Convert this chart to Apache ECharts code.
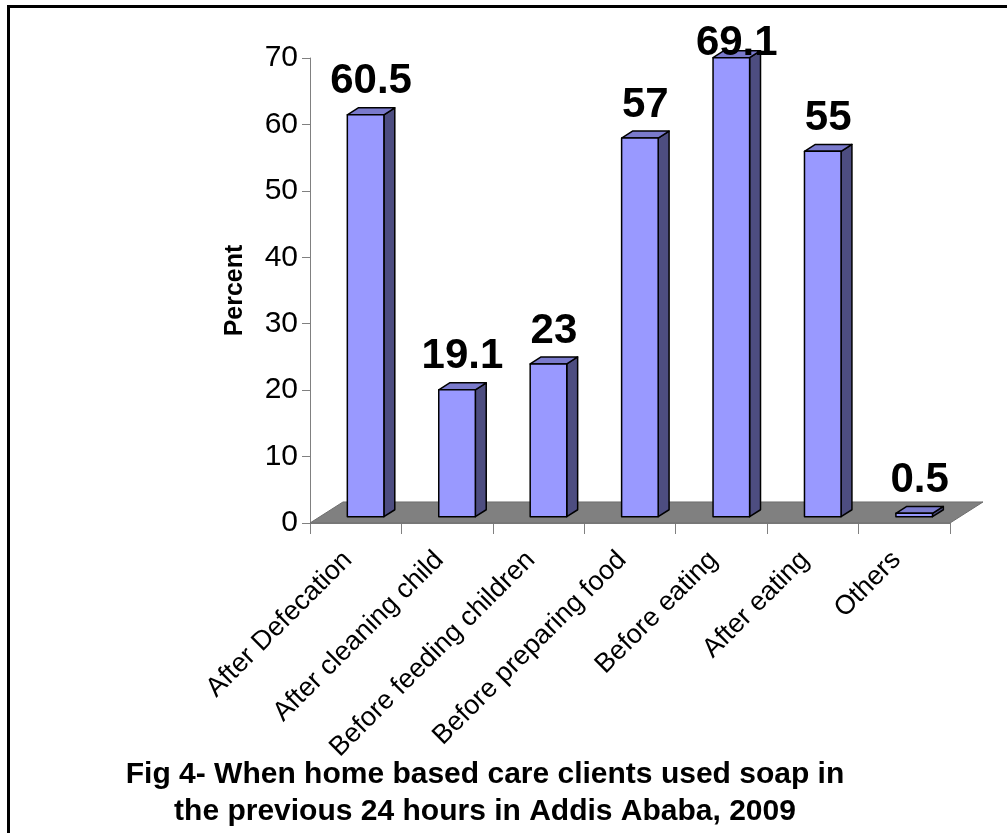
<!DOCTYPE html>
<html>
<head>
<meta charset="utf-8">
<title>Soap use in the previous 24 hours</title>
<script src="https://cdn.jsdelivr.net/npm/echarts@6/dist/echarts.min.js"></script>
<style>
  html, body { margin: 0; padding: 0; background: #fff; }
  #chart { width: 1007px; height: 833px; }
</style>
</head>
<body>
<div id="chart"></div>
<script>
// Occasions on which soap was used (percent of clients)
const categories = [
  'After Defecation',
  'After cleaning child',
  'Before feeding children',
  'Before preparing food',
  'Before eating',
  'After eating',
  'Others'
];
const percentValues = [60.5, 19.1, 23, 57, 69.1, 55, 0.5];

// Value axis range and step
const yMin = 0;
const yMax = 70;
const yStep = 10;

const FONT = "'Liberation Sans', Arial, Helvetica, sans-serif";

// Depth of the pseudo-3D floor, as a fraction of one category band
const DEPTH_X = 0.361;
const DEPTH_Y = -0.23;
// Front and back planes of the columns along that depth
const COL_FRONT = 0.3;
const COL_BACK = 0.63;
const COL_WIDTH = 0.4;

function renderFloor(params, api) {
  const bw = api.size([1, 0])[0];
  const first = api.coord([0, 0]);
  const last = api.coord([categories.length - 1, 0]);
  const left = first[0] - bw / 2;
  const right = last[0] + bw / 2;
  const y0 = first[1];
  const dx = bw * DEPTH_X, dy = bw * DEPTH_Y;
  return {
    type: 'polygon',
    shape: { points: [[left, y0], [right, y0], [right + dx, y0 + dy], [left + dx, y0 + dy]] },
    style: { fill: '#808080', stroke: '#6e6e6e', lineWidth: 1 }
  };
}

function renderColumn(params, api) {
  const i = api.value(0);
  const v = api.value(1);
  const base = api.coord([i, 0]);
  const top = api.coord([i, v]);
  const bw = api.size([1, 0])[0];
  const dx = bw * DEPTH_X, dy = bw * DEPTH_Y;
  const w = bw * COL_WIDTH;
  const xl = base[0] - w / 2 + dx * COL_FRONT;
  const xr = xl + w;
  const yb = base[1] + dy * COL_FRONT;
  const yt = top[1] + dy * COL_FRONT;
  const ddx = dx * (COL_BACK - COL_FRONT);
  const ddy = dy * (COL_BACK - COL_FRONT);
  const edge = { stroke: '#000', lineWidth: 1.5, lineJoin: 'round' };

  // value label sits above the back edge of the top face, kept inside the chart
  let labelY = yt + ddy - 11 - 15;
  if (labelY < 43) labelY = 43;

  return {
    type: 'group',
    children: [
      {
        type: 'polygon',
        shape: { points: [[xr, yt], [xr + ddx, yt + ddy], [xr + ddx, yb + ddy], [xr, yb]] },
        style: Object.assign({ fill: '#4d4d80' }, edge)
      },
      {
        type: 'polygon',
        shape: { points: [[xl, yt], [xl + ddx, yt + ddy], [xr + ddx, yt + ddy], [xr, yt]] },
        style: Object.assign({ fill: '#7a7acc' }, edge)
      },
      {
        type: 'rect',
        shape: { x: xl, y: yt, width: w, height: yb - yt },
        style: Object.assign({ fill: '#9999ff' }, edge)
      },
      {
        type: 'text',
        x: (xl + xr + ddx) / 2,
        y: labelY,
        style: {
          text: String(percentValues[i]),
          fill: '#000',
          font: 'bold 42px ' + FONT,
          align: 'center',
          verticalAlign: 'middle'
        }
      }
    ]
  };
}

const chart = echarts.init(document.getElementById('chart'), null, { renderer: 'canvas' });

chart.setOption({
  backgroundColor: '#fff',
  animation: false,
  title: {
    text: 'Fig 4- When home based care clients used soap in\nthe previous 24 hours in Addis Ababa, 2009',
    left: 480,
    top: 751,
    textAlign: 'center',
    textStyle: {
      fontFamily: FONT,
      fontSize: 30,
      fontWeight: 'bold',
      color: '#000',
      lineHeight: 37
    }
  },
  graphic: [
    {
      type: 'rect',
      shape: { x: 8.5, y: 6.5, width: 1200, height: 1000 },
      style: { fill: 'none', stroke: '#000', lineWidth: 3 },
      silent: true
    }
  ],
  grid: {
    left: 310,
    right: 57,
    top: 58,
    bottom: 310,
    containLabel: false
  },
  xAxis: {
    type: 'category',
    data: categories,
    boundaryGap: true,
    axisLine: { show: true, lineStyle: { color: '#808080', width: 1 } },
    axisTick: { show: true, length: 11, alignWithLabel: false, lineStyle: { color: '#808080' } },
    axisLabel: {
      rotate: 45,
      interval: 0,
      margin: 25,
      padding: [0, 11, 0, 0],
      fontFamily: FONT,
      fontSize: 27,
      color: '#000'
    },
    splitLine: { show: false }
  },
  yAxis: {
    type: 'value',
    min: yMin,
    max: yMax,
    interval: yStep,
    name: 'Percent',
    nameLocation: 'middle',
    nameRotate: 90,
    nameGap: 62,
    nameTextStyle: {
      fontFamily: FONT,
      fontSize: 25,
      fontWeight: 'bold',
      color: '#000'
    },
    axisLine: { show: true, lineStyle: { color: '#808080', width: 1 } },
    axisTick: { show: true, length: 8, lineStyle: { color: '#808080' } },
    axisLabel: {
      margin: 12,
      fontFamily: FONT,
      fontSize: 30,
      color: '#000'
    },
    splitLine: { show: false }
  },
  series: [
    {
      type: 'custom',
      name: 'floor',
      renderItem: renderFloor,
      data: [[0, 0]],
      clip: false,
      silent: true,
      z: 1
    },
    {
      type: 'custom',
      name: 'Percent',
      renderItem: renderColumn,
      data: percentValues.map((v, i) => [i, v]),
      encode: { x: 0, y: 1 },
      clip: false,
      z: 3
    }
  ]
});
</script>
</body>
</html>
